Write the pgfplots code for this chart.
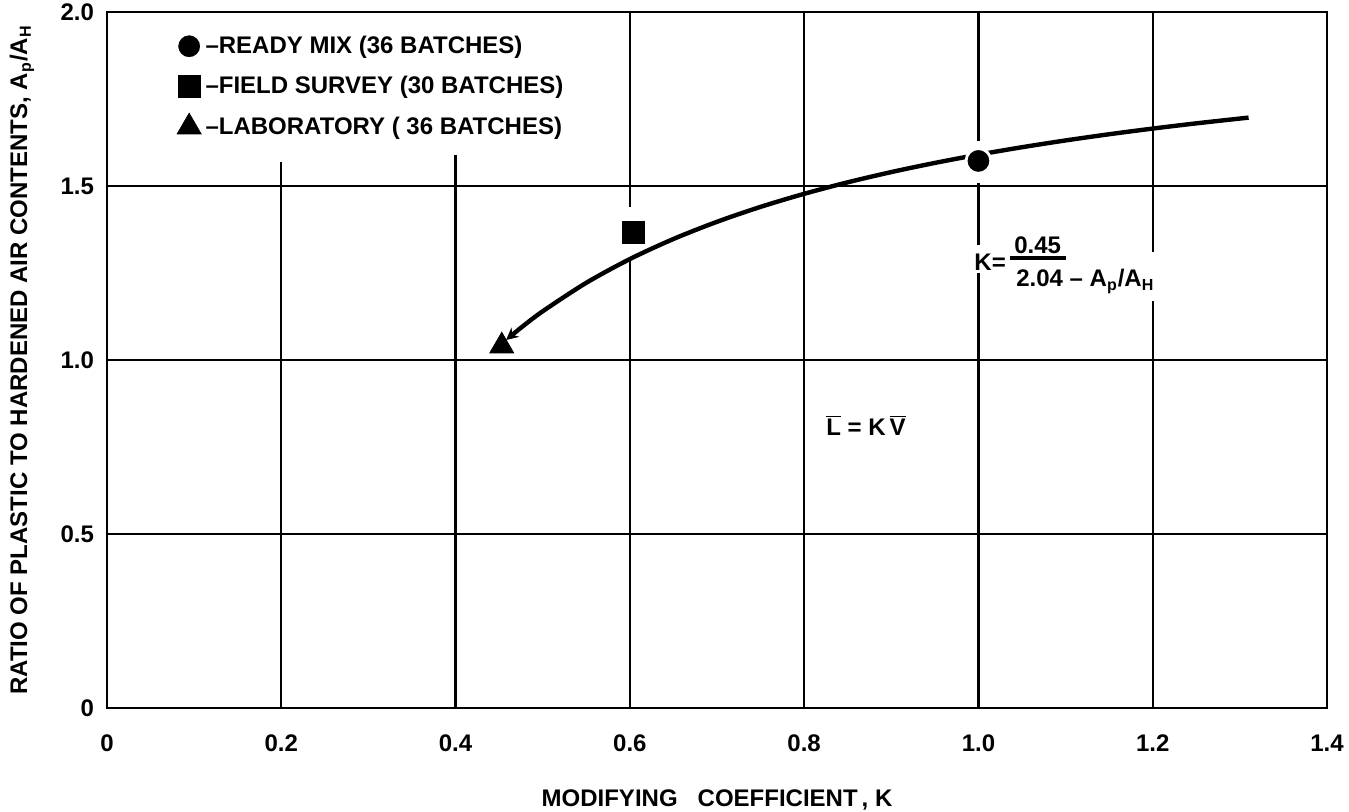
\documentclass[border=0pt]{standalone}
\usepackage{fontspec}
\setmainfont{Liberation Sans}
\usepackage{pgfplots}
\pgfplotsset{compat=1.18}
\usetikzlibrary{arrows.meta}
\newcommand{\lf}{\bfseries\fontsize{12}{14}\selectfont}
\begin{document}
\begin{tikzpicture}
\begin{axis}[
  set layers,
  scale only axis, width=610pt, height=348pt,
  xmin=0, xmax=1.4, ymin=0, ymax=2.0,
  xtick={0,0.2,0.4,0.6,0.8,1.0,1.2,1.4},
  xticklabels={0,0.2,0.4,0.6,0.8,1.0,1.2,1.4},
  ytick={0,0.5,1,1.5,2},
  yticklabels={0,0.5,1.0,1.5,2.0},
  major tick length=0pt,
  tick label style={font=\lf},
  xticklabel style={yshift=-10pt},
  yticklabel style={xshift=-3pt},
  axis line style={line width=1.2pt},
  every axis x label/.style={at={(axis description cs:0.5,0)}, yshift=-46pt, anchor=center, font=\lf},
  every axis y label/.style={at={(axis description cs:0,0.5)}, xshift=-42.5pt, rotate=90, anchor=center, font=\lf},
  xlabel={MODIFYING\ \ \ COEFFICIENT\,, K},
  ylabel={RATIO OF PLASTIC TO HARDENED AIR CONTENTS, A\textsubscript{p}/A\textsubscript{H}},
  legend image code/.code={\draw[#1] plot coordinates {(0cm,0cm)};},
  legend style={at={(axis cs:0.075,1.955)}, anchor=north west, draw=none, fill=none,
    font=\lf, row sep=6pt, inner sep=2pt},
  legend cell align=left,
]
\coordinate (sw) at (rel axis cs:0,0);
\coordinate (ne) at (rel axis cs:1,1);
% grid lines
\begin{pgfonlayer}{axis grid}
\draw[line width=1.1pt] (axis cs:0,0.5) -- (axis cs:1.4,0.5);
\draw[line width=1.1pt] (axis cs:0,1.0) -- (axis cs:1.4,1.0);
\draw[line width=1.1pt] (axis cs:0,1.5) -- (axis cs:1.4,1.5);
\draw[line width=1.1pt] (axis cs:0.2,0) -- (axis cs:0.2,1.57);
\draw[line width=1.1pt] (axis cs:0.4,0) -- (axis cs:0.4,1.59);
\draw[line width=1.1pt] (axis cs:0.6,0) -- (axis cs:0.6,1.29);
\draw[line width=1.1pt] (axis cs:0.6,1.44) -- (axis cs:0.6,2);
\draw[line width=1.1pt] (axis cs:0.8,0) -- (axis cs:0.8,2);
\draw[line width=1.1pt] (axis cs:1.0,0) -- (axis cs:1.0,1.25);
\draw[line width=1.1pt] (axis cs:1.0,1.33) -- (axis cs:1.0,1.51);
\draw[line width=1.1pt] (axis cs:1.0,1.63) -- (axis cs:1.0,2);
\draw[line width=1.1pt] (axis cs:1.2,0) -- (axis cs:1.2,1.17);
\draw[line width=1.1pt] (axis cs:1.2,1.31) -- (axis cs:1.2,2);
\end{pgfonlayer}
% fitted curve K = 0.45/(2.04 - Ap/AH)
\addplot[line width=2.2pt, smooth, -{Stealth[length=6pt,width=6pt]}, forget plot] coordinates {
(1.31,1.6965) (1.25,1.68) (1.2,1.665) (1.15,1.6487) (1.1,1.6309) (1.05,1.6114)
(1.0,1.59) (0.95,1.5663) (0.9,1.54) (0.85,1.5106) (0.8,1.4775) (0.75,1.44)
(0.7,1.3971) (0.65,1.3477) (0.6,1.29) (0.55,1.2218) (0.5,1.14) (0.475,1.0926) (0.458,1.0575)
};
\addplot[only marks, mark=*, mark size=6.2pt, mark options={fill=black, draw=white, line width=1.4pt}] coordinates {(1.0,1.572)};
\addlegendentry{--READY MIX (36 BATCHES)}
\addplot[only marks, mark=square*, mark size=5.5pt, mark options={fill=black, draw=black}] coordinates {(0.604,1.368)};
\addlegendentry{--FIELD SURVEY (30 BATCHES)}
\addplot[only marks, mark=triangle*, mark size=6.9pt, mark options={fill=black, draw=black}] coordinates {(0.453,1.040)};
\addlegendentry{--LABORATORY ( 36 BATCHES)}
% annotations
\node[anchor=west, font=\lf, inner sep=0pt] at (axis cs:0.995,1.282) {K=};
\node[font=\lf, inner sep=0pt] at (axis cs:1.068,1.330) {0.45};
\draw[line width=1.8pt] (axis cs:1.036,1.293) -- (axis cs:1.101,1.293);
\node[anchor=west, font=\lf, inner sep=0pt] at (axis cs:1.043,1.226) {2.04 -- A\textsubscript{p}/A\textsubscript{H}};
\node[font=\lf] at (axis cs:0.871,0.813) {$\overline{\mbox{L}}$ = K\,$\overline{\mbox{V}}$};
\end{axis}
\pgfresetboundingbox
\path ([shift={(-53.5pt,-52pt)}]sw) rectangle ([shift={(11pt,6pt)}]ne);
\end{tikzpicture}
\end{document}
